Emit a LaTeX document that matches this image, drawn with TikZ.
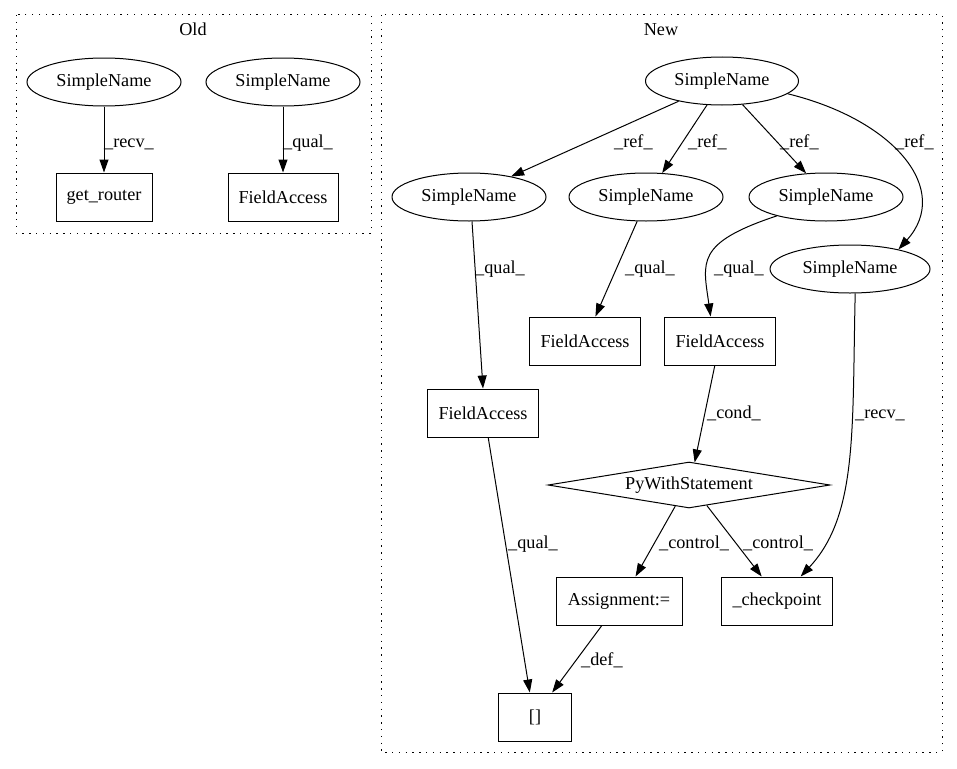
\documentclass[tikz,border=0pt]{standalone}
\usepackage{fontspec}
\setmainfont{Liberation Serif}
\usetikzlibrary{shapes.geometric,arrows.meta}
\begin{document}
\begin{tikzpicture}[x=1pt,y=-1pt,
  every node/.style={font=\fontsize{18.2}{22}\selectfont, inner sep=0pt},
  ell/.style={draw, ellipse, minimum width=154pt, minimum height=48pt, line width=1pt},
  box/.style={draw, rectangle, minimum height=48pt, line width=1pt},
  dia/.style={draw, diamond, aspect=6, minimum width=282pt, minimum height=46pt, line width=1pt},
  edge/.style={draw, line width=1pt, -{Triangle[length=13pt,width=9pt]}},
  lbl/.style={anchor=base west},
  cluster/.style={draw, line width=1pt, dash pattern=on 1.3pt off 5.5pt},
]
\useasboundingbox (0,0) rectangle (957,768);
% clusters
\draw[cluster] (16,15) rectangle (371,233);
\draw[cluster] (381,15) rectangle (942,752);
\node[anchor=base] (tOld) at (193,36) {Old};
\node[anchor=base] (tNew) at (661,36) {New};
% old nodes
\node[ell] (o1) at (104,82) {SimpleName};
\node[box, minimum width=96pt] (o2) at (104,197) {get\_router};
\node[ell] (o3) at (283,82) {SimpleName};
\node[box, minimum width=110pt] (o4) at (283,197) {FieldAccess};
% new nodes
\node[ell, minimum width=153pt] (s0) at (722,81) {SimpleName};
\node[ell] (sa) at (469,197) {SimpleName};
\node[ell] (sb) at (646,197) {SimpleName};
\node[ell] (sc) at (826,197) {SimpleName};
\node[ell, minimum width=160pt] (sd) at (850,269) {SimpleName};
\node[box, minimum width=111pt] (fa) at (483,413) {FieldAccess};
\node[box, minimum width=111pt] (fb) at (585,341) {FieldAccess};
\node[box, minimum width=111pt] (fc) at (720,341) {FieldAccess};
\node[dia] (pw) at (689,485) {PyWithStatement};
\node[box, minimum width=126pt] (as) at (619,601) {Assignment:=};
\node[box, minimum width=111pt] (cp) at (777,601) {\_checkpoint};
\node[box, minimum width=73pt] (br) at (535,717) {[]};
% edges
\draw[edge] (o1) -- (o2);
\draw[edge] (o3) -- (o4);
\draw[edge] (s0.205) -- (sa.26);
\draw[edge] (s0.238) -- (sb.56);
\draw[edge] (s0.311) -- (sc.130);
\draw[edge] (s0.349) .. controls (895,120) and (952,190) .. (sd.22);
\draw[edge] (sa.277) -- (fa.north);
\draw[edge] (sb.250) -- (fb.67);
\draw[edge] (sc.201) .. controls (695,243) and (703,262) .. (fc.111);
\draw[edge] (sd.282) .. controls (852,430) and (858,515) .. (cp.46);
\draw[edge] (fc.258) -- (pw.76);
\draw[edge] (fa.282) -- (br.102);
\draw[edge] (pw.237) -- (as.56);
\draw[edge] (pw.311) -- (cp.122);
\draw[edge] (as.235) -- (br.55);
% labels
\node[lbl] (l1) at (104,147) {\_recv\_};
\node[lbl] (l2) at (283,147) {\_qual\_};
\node[lbl] (l3) at (614,147) {\_ref\_};
\node[lbl] (l4) at (688,147) {\_ref\_};
\node[lbl] (l5) at (780,147) {\_ref\_};
\node[lbl] (l6) at (895,147) {\_ref\_};
\node[lbl] (l7) at (475,273) {\_qual\_};
\node[lbl] (l8) at (625,273) {\_qual\_};
\node[lbl] (l9) at (714,273) {\_qual\_};
\node[lbl] (l10) at (855,418) {\_recv\_};
\node[lbl] (l11) at (707,418) {\_cond\_};
\node[lbl] (l12) at (508,548) {\_qual\_};
\node[lbl] (l13) at (659,548) {\_control\_};
\node[lbl] (l14) at (743,548) {\_control\_};
\node[lbl] (l15) at (581,665) {\_def\_};
\end{tikzpicture}
\end{document}
